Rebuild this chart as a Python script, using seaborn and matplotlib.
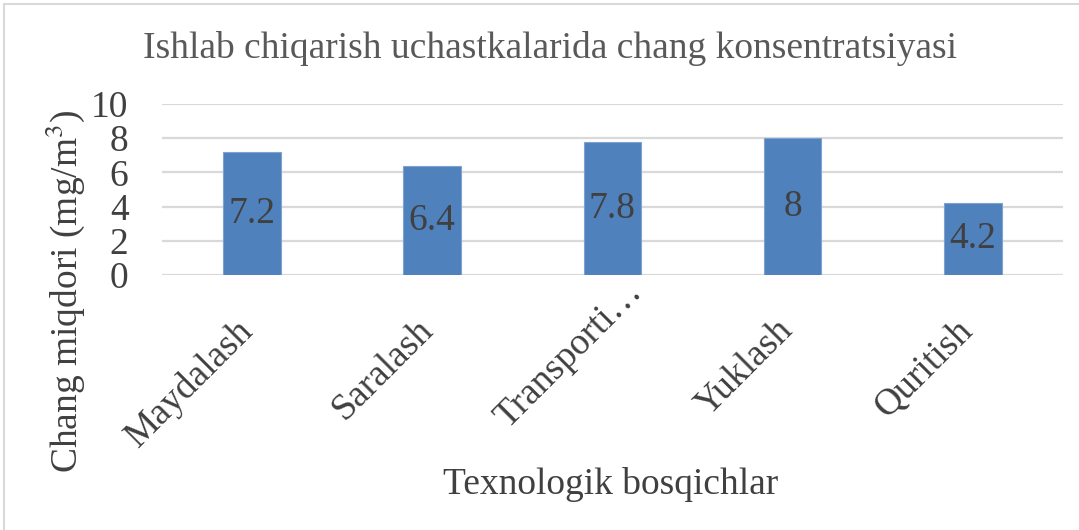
import matplotlib
matplotlib.use("Agg")
import matplotlib.pyplot as plt
import matplotlib.transforms as mtransforms
import seaborn as sns
import pandas as pd
from matplotlib.patches import Rectangle

categories = ["Maydalash", "Saralash", "Transporti\u2026", "Yuklash", "Quritish"]
values = [7.2, 6.4, 7.8, 8, 4.2]
value_labels = ["7.2", "6.4", "7.8", "8", "4.2"]
yticks = [0, 2, 4, 6, 8, 10]

sns.set_theme(style="white")
plt.rcParams["font.family"] = ["Liberation Serif", "DejaVu Serif"]
plt.rcParams["mathtext.fontset"] = "stix"

text_color = "#404040"
df = pd.DataFrame({"stage": categories, "value": values})

fig = plt.figure(figsize=(10.79, 5.30), dpi=100)
ax = fig.add_axes([0.150, 0.481, 0.835, 0.323])

sns.barplot(data=df, x="stage", y="value", color="#4F81BD", saturation=1,
            width=0.32, ax=ax, zorder=3, edgecolor="#7EA3D1", linewidth=0.8)

ax.set_xlim(-0.5, 4.5)
ax.set_ylim(0, 10)
ax.set_yticks(yticks)
ax.set_yticklabels([str(t) for t in yticks], fontsize=27, color=text_color)
ax.tick_params(axis="y", length=0, pad=24)
ax.tick_params(axis="x", length=0, pad=28)
ax.yaxis.grid(True, color="#D9D9D9", linewidth=1.6, zorder=0)
ax.set_axisbelow(True)
for s in ax.spines.values():
    s.set_visible(False)
ax.set_xlabel("")
ax.set_ylabel("")
ax.set_xticks(range(len(categories)))
ax.set_xticklabels(categories, rotation=45, ha="right", va="top",
                   rotation_mode="anchor", fontsize=27, color=text_color)
shift = mtransforms.ScaledTranslation(-0.17, 0.01, fig.dpi_scale_trans)
trunc_shift = mtransforms.ScaledTranslation(0.30, 0.38, fig.dpi_scale_trans)
for lab in ax.get_xticklabels():
    t = lab.get_transform() + shift
    if lab.get_text().endswith("\u2026"):
        t = t + trunc_shift
    lab.set_transform(t)

for i, (v, lab) in enumerate(zip(values, value_labels)):
    ax.text(i, v / 2, lab, ha="center", va="center", fontsize=27,
            color=text_color, zorder=4)

fig.text(0.51, 0.909, "Ishlab chiqarish uchastkalarida chang konsentratsiyasi",
         ha="center", va="center", fontsize=27, color="#595959")
fig.text(0.566, 0.085, "Texnologik bosqichlar", ha="center", va="center",
         fontsize=27, color=text_color)
fig.text(0.06, 0.45, "Chang miqdori (mg/m$^3$)", ha="center", va="center",
         rotation=90, fontsize=27, color=text_color)

fig.patches.append(Rectangle((4 / 1079, -0.01), 1.1, 1 - 4 / 530 + 0.01,
                             transform=fig.transFigure, fill=False,
                             edgecolor="#D9D9D9", linewidth=1.5))

fig.savefig("out.png", dpi=100)
